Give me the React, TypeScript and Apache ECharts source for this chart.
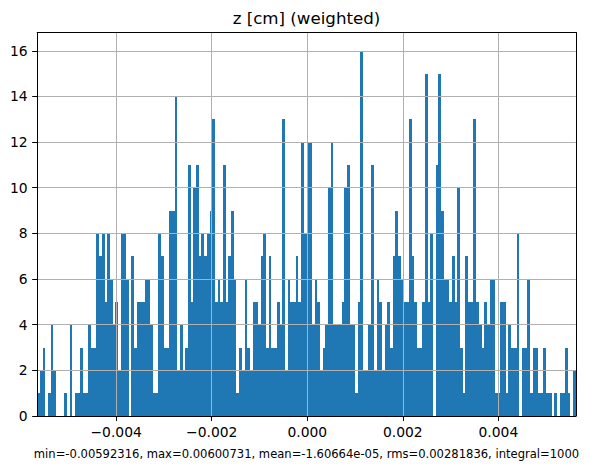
import React, { useEffect, useRef } from 'react';
import * as echarts from 'echarts';

const TITLE = 'z [cm] (weighted)';
const STATS = 'min=-0.00592316, max=0.00600731, mean=-1.60664e-05, rms=0.00281836, integral=1000';
const MEAN = -1.60664e-5;
const RMS = 0.00281836;
const BIN_COUNT = 200;

// weighted counts per bin (200 bins over mean ± 2·rms)
const counts: number[] = [
  1, 2, 3, 0, 1, 4, 2, 0, 0, 0,
  1, 0, 4, 0, 1, 1, 3, 1, 1, 4,
  3, 3, 8, 7, 8, 5, 8, 6, 4, 5,
  2, 8, 8, 6, 0, 7, 3, 5, 5, 5,
  6, 6, 4, 1, 1, 8, 7, 3, 3, 9,
  9, 14, 2, 4, 2, 3, 11, 5, 10, 11,
  7, 8, 7, 8, 9, 13, 5, 6, 5, 11,
  5, 7, 9, 6, 1, 3, 2, 6, 3, 2,
  5, 5, 4, 7, 8, 3, 7, 3, 3, 5,
  4, 13, 2, 6, 5, 5, 7, 5, 12, 8,
  12, 12, 4, 6, 5, 2, 3, 4, 10, 12,
  4, 4, 4, 5, 10, 11, 4, 4, 1, 5,
  16, 2, 2, 4, 11, 2, 6, 5, 2, 4,
  5, 3, 7, 9, 7, 6, 5, 5, 13, 7,
  5, 3, 3, 5, 15, 5, 8, 0, 11, 15,
  9, 6, 6, 5, 7, 5, 10, 3, 1, 7,
  5, 5, 13, 5, 4, 3, 5, 4, 6, 6,
  1, 1, 5, 5, 1, 4, 3, 3, 8, 0,
  3, 3, 6, 1, 3, 3, 1, 1, 3, 1,
  1, 0, 1, 0, 1, 1, 3, 1, 0, 2,
];

const xTicks = [-0.004, -0.002, 0, 0.002, 0.004];
const yTicks = [0, 2, 4, 6, 8, 10, 12, 14, 16];
const Y_MAX = 16.8;

const X_MIN = MEAN - 2 * RMS;
const X_MAX = MEAN + 2 * RMS;

const FONT = 'DejaVu Sans';

function fmtX(v: number): string {
  if (Math.abs(v) < 1e-12) return '0.000';
  return (v < 0 ? '\u2212' : '') + Math.abs(v).toFixed(3);
}

export default function App() {
  const ref = useRef<HTMLDivElement>(null);

  useEffect(() => {
    document.body.style.margin = '0';
    const el = ref.current;
    if (!el) return;
    const chart = echarts.init(el, null, { renderer: 'svg' });
    const w = (X_MAX - X_MIN) / BIN_COUNT;
    const data = counts.map((c, i) => [X_MIN + i * w, X_MIN + (i + 1) * w, c]);

    const GRID = { left: 37.2, top: 32.5, width: 538.6, height: 383.5 };
    const axisCenter = GRID.left + GRID.width / 2;

    const option: any = {
      animation: false,
      backgroundColor: '#fff',
      title: [
        {
          text: TITLE,
          left: axisCenter,
          textAlign: 'center',
          top: 8.4,
          padding: 0,
          textStyle: { fontFamily: FONT, fontSize: 16.67, fontWeight: 'normal', color: '#000', lineHeight: 20 },
        },
        {
          text: STATS,
          left: axisCenter,
          textAlign: 'center',
          top: 447,
          padding: 0,
          textStyle: { fontFamily: FONT, fontSize: 11.57, fontWeight: 'normal', color: '#000', lineHeight: 14 },
        },
      ],
      grid: { ...GRID, containLabel: false, outerBoundsMode: 'none' },
      xAxis: [
        {
          type: 'value',
          min: X_MIN,
          max: X_MAX,
          position: 'bottom',
          z: 5,
          axisLine: { show: true, onZero: false, lineStyle: { color: '#000', width: 1 } },
          axisTick: { show: true, inside: false, length: 5, customValues: xTicks, lineStyle: { color: '#000', width: 1 } },
          axisLabel: {
            show: true,
            customValues: xTicks,
            margin: 8.5,
            formatter: (v: number) => fmtX(v),
            fontFamily: FONT,
            fontSize: 13.89,
            color: '#000',
          },
          splitLine: { show: true, lineStyle: { color: '#b0b0b0', width: 1 } },
        },
        {
          type: 'value',
          min: X_MIN,
          max: X_MAX,
          position: 'top',
          z: 5,
          axisLine: { show: true, onZero: false, lineStyle: { color: '#000', width: 1 } },
          axisTick: { show: false },
          axisLabel: { show: false },
          splitLine: { show: false },
        },
      ],
      yAxis: [
        {
          type: 'value',
          min: 0,
          max: Y_MAX,
          position: 'left',
          z: 5,
          axisLine: { show: true, onZero: false, lineStyle: { color: '#000', width: 1 } },
          axisTick: { show: true, inside: false, length: 5, customValues: yTicks, lineStyle: { color: '#000', width: 1 } },
          axisLabel: {
            show: true,
            customValues: yTicks,
            margin: 9.5,
            formatter: (v: number) => String(v),
            fontFamily: FONT,
            fontSize: 13.89,
            color: '#000',
          },
          splitLine: { show: true, lineStyle: { color: '#b0b0b0', width: 1 } },
        },
        {
          type: 'value',
          min: 0,
          max: Y_MAX,
          position: 'right',
          z: 5,
          axisLine: { show: true, onZero: false, lineStyle: { color: '#000', width: 1 } },
          axisTick: { show: false },
          axisLabel: { show: false },
          splitLine: { show: false },
        },
      ],
      series: [
        {
          type: 'custom',
          xAxisIndex: 0,
          yAxisIndex: 0,
          z: 2,
          encode: { x: [0, 1], y: 2 },
          data,
          renderItem: (params: any, api: any) => {
            const x0 = api.value(0);
            const x1 = api.value(1);
            const v = api.value(2);
            if (!v) return { type: 'group', children: [] };
            const a = api.coord([x0, v]);
            const b = api.coord([x1, 0]);
            const left = Math.round(a[0]);
            const right = Math.round(b[0]);
            const top = Math.round(a[1]);
            const bottom = b[1];
            return {
              type: 'rect',
              shape: { x: left, y: top, width: right - left, height: bottom - top },
              style: { fill: '#1f77b4' },
            };
          },
        },
      ],
    };
    chart.setOption(option);
    return () => {
      chart.dispose();
    };
  }, []);

  return <div ref={ref} style={{ width: 590, height: 468 }} />;
}
